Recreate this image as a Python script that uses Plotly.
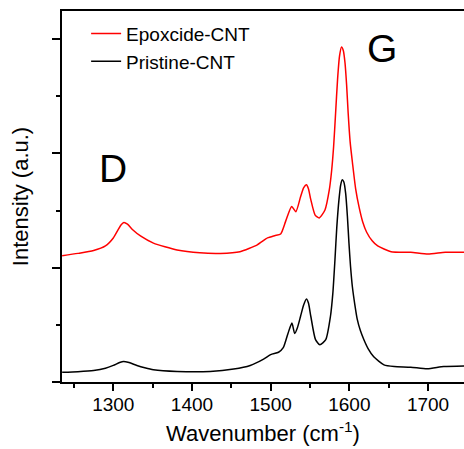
import plotly.graph_objects as go

# Wavenumber (cm^-1) and intensity (a.u.)
pristine_x = [1235, 1255, 1275, 1290, 1300, 1308, 1313, 1320, 1330, 1340, 1351, 1381, 1423, 1453,
              1474, 1491, 1500, 1510, 1516, 1522, 1527, 1530.5, 1534, 1538, 1542, 1545.5, 1548,
              1551, 1557, 1562.5, 1570, 1576, 1579, 1581.7, 1584, 1586.8, 1589, 1591, 1593,
              1595.3, 1597.5, 1599.5, 1601.5, 1603.8, 1607, 1610, 1614, 1618.5, 1624, 1631,
              1644, 1657, 1678, 1699, 1720, 1746]
pristine_y = [0.17, 0.18, 0.20, 0.24, 0.29, 0.34, 0.36, 0.34, 0.29, 0.25, 0.215, 0.185, 0.185, 0.227,
              0.29, 0.40, 0.48, 0.52, 0.60, 0.85, 1.03, 0.85, 0.95, 1.15, 1.35, 1.45, 1.38,
              1.15, 0.74, 0.65, 0.74, 1.15, 1.55, 2.14, 2.70, 3.19, 3.45, 3.54, 3.50,
              3.30, 2.90, 2.43, 2.02, 1.67, 1.35, 1.10, 0.90, 0.74, 0.58, 0.44,
              0.30, 0.27, 0.26, 0.23, 0.27, 0.28]

epox_x = [1235, 1255, 1275, 1290, 1300, 1306, 1310, 1313.5, 1318, 1325, 1335, 1351, 1381, 1410,
          1436, 1461, 1483, 1496, 1505, 1512.7, 1519, 1526.7, 1532, 1538, 1542, 1545.5, 1548,
          1551, 1556.5, 1561.7, 1569, 1574.5, 1577.5, 1580, 1582.5, 1585, 1587.5, 1590, 1592.3,
          1594.5, 1596.5, 1598.5, 1601, 1604, 1608, 1612.5, 1617, 1622, 1629, 1636, 1653,
          1678, 1700, 1722, 1746]
epox_y = [2.21, 2.25, 2.30, 2.38, 2.52, 2.66, 2.75, 2.79, 2.76, 2.66, 2.55, 2.43, 2.31, 2.26,
          2.25, 2.28, 2.40, 2.52, 2.56, 2.59, 2.81, 3.07, 2.98, 3.24, 3.40, 3.45, 3.38,
          3.19, 2.92, 2.87, 3.01, 3.36, 3.70, 4.12, 4.70, 5.29, 5.70, 5.86, 5.80,
          5.58, 5.20, 4.70, 4.20, 3.83, 3.38, 3.05, 2.80, 2.62, 2.47, 2.38, 2.28,
          2.27, 2.24, 2.27, 2.27]

x_ticks = [1300, 1400, 1500, 1600, 1700]
y_ticks = [0, 2, 4, 6]
peak_labels = ["D", "G"]
peak_x = [1300, 1641]
peak_y = [3.73, 5.84]

FONT = "Liberation Sans, Arial, sans-serif"

fig = go.Figure()
fig.add_trace(go.Scatter(x=epox_x, y=epox_y, mode="lines", name="Epoxcide-CNT",
                         line=dict(color="#ff0000", width=1.5, shape="spline", smoothing=0.6)))
fig.add_trace(go.Scatter(x=pristine_x, y=pristine_y, mode="lines", name="Pristine-CNT",
                         line=dict(color="#000000", width=1.5, shape="spline", smoothing=0.6)))

for lab, px, py in zip(peak_labels, peak_x, peak_y):
    fig.add_annotation(x=px, y=py, text=lab, showarrow=False,
                       font=dict(family=FONT, size=39, color="black"))

fig.update_layout(
    width=464, height=449,
    margin=dict(l=62, r=0, t=11, b=67),
    paper_bgcolor="white", plot_bgcolor="white",
    font=dict(family=FONT, color="black"),
    showlegend=True,
    legend=dict(x=0.06, y=0.99, xanchor="left", yanchor="top",
                bgcolor="rgba(0,0,0,0)", font=dict(size=19, family=FONT),
                tracegroupgap=0, itemwidth=30),
    xaxis=dict(range=[1234.8, 1745.7], tickvals=x_ticks, ticks="outside", ticklen=7,
               tickwidth=1.5, tickcolor="black", showline=True, linewidth=1.5,
               linecolor="black", mirror=True, showgrid=False, zeroline=False,
               tickfont=dict(size=19, family=FONT), ticklabelstandoff=-3,
               minor=dict(ticks="outside", ticklen=4, tickwidth=1.5, tickcolor="black",
                          dtick=50, tick0=1250, showgrid=False),
               title=dict(text="Wavenumber (cm<sup>-1</sup>)", font=dict(size=22, family=FONT),
                          standoff=12)),
    yaxis=dict(range=[0, 6.49], tickvals=y_ticks, ticks="outside", ticklen=8,
               tickwidth=1.5, tickcolor="black", showline=True, linewidth=1.5,
               linecolor="black", showgrid=False, zeroline=False, showticklabels=False,
               minor=dict(ticks="outside", ticklen=4, tickwidth=1.5, tickcolor="black",
                          dtick=1, tick0=0, showgrid=False),
               title=dict(text="Intensity (a.u.)", font=dict(size=22, family=FONT),
                          standoff=18)),
)

fig.write_html("out.html")
